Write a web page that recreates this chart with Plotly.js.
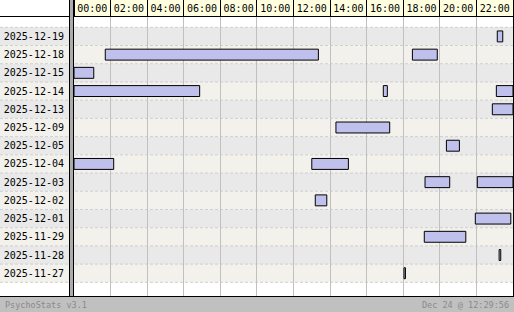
<!DOCTYPE html>
<html>
<head>
<meta charset="utf-8">
<script src="https://cdn.plot.ly/plotly-3.0.1.min.js"></script>
<style>
html,body{margin:0;padding:0;background:#fff;}
#chart{width:514px;height:312px;}
</style>
</head>
<body>
<div id="chart"></div>
<script>
// ---- data ----
const days = ['2025-12-19','2025-12-18','2025-12-15','2025-12-14','2025-12-13','2025-12-09','2025-12-05','2025-12-04','2025-12-03','2025-12-02','2025-12-01','2025-11-29','2025-11-28','2025-11-27'];
const hourLabels = ['00:00','02:00','04:00','06:00','08:00','10:00','12:00','14:00','16:00','18:00','20:00','22:00'];
const sessionDay = ['2025-12-19','2025-12-18','2025-12-18','2025-12-15','2025-12-14','2025-12-14','2025-12-14','2025-12-13','2025-12-09','2025-12-05','2025-12-04','2025-12-04','2025-12-03','2025-12-03','2025-12-02','2025-12-01','2025-11-29','2025-11-28','2025-11-27'];
const sessionStart = [23.14, 1.71, 18.50, 0.00, 0.00, 16.91, 23.09, 22.87, 14.32, 20.36, 0.00, 13.00, 19.19, 22.05, 13.19, 21.94, 19.15, 23.24, 18.04];
const sessionEnd   = [23.44, 13.36, 19.86, 1.08, 6.87, 17.13, 24.00, 24.00, 17.26, 21.07, 2.17, 15.00, 20.54, 24.00, 13.82, 23.88, 21.42, 23.33, 18.12];
const footerLeft = 'PsychoStats v3.1';
const footerRight = 'Dec 24 @ 12:29:56';

// ---- geometry (pixels) ----
const W = 514, H = 312;
const M = {l: 74, r: 1, t: 17, b: 16};
const PW = W - M.l - M.r, PH = H - M.t - M.b;
const px = p => (p - M.l) / PW;           // pixel x -> paper x
const py = p => (H - M.b - p) / PH;       // pixel y -> paper y
const FONT = 'DejaVu Sans Mono, monospace';

const hourSpan = 24;
const labelVals = hourLabels.map((_, i) => 2 * i + 1);

const shapes = [];
// alternating row bands (label column + plot)
days.forEach((d, i) => {
  shapes.push({type: 'rect', layer: 'below', xref: 'paper', yref: 'y',
    x0: px(0), x1: px(W), y0: i - 0.5, y1: i + 0.5,
    fillcolor: i % 2 === 0 ? '#e9e9e9' : '#f3f1ec', line: {width: 0}});
});
// dashed row separators
for (let i = 0; i <= days.length; i++) {
  shapes.push({type: 'line', layer: 'below', xref: 'paper', yref: 'y',
    x0: px(0), x1: px(W), y0: i - 0.5, y1: i - 0.5,
    line: {color: '#cfcfcf', width: 1, dash: '3px,2px'}});
}
// header background (below so tick labels stay visible)
shapes.push({type: 'rect', layer: 'below', xref: 'paper', yref: 'paper',
  x0: 0, x1: 1, y0: py(16), y1: py(0), fillcolor: '#ffffe0', line: {width: 0}});
// header bottom border
shapes.push({type: 'line', layer: 'above', xref: 'paper', yref: 'paper',
  x0: px(0), x1: px(W), y0: py(16.5), y1: py(16.5), line: {color: '#000', width: 1}});
// footer
shapes.push({type: 'rect', layer: 'below', xref: 'paper', yref: 'paper',
  x0: px(0), x1: px(W), y0: py(312), y1: py(297), fillcolor: '#c0c0c0', line: {width: 0}});
shapes.push({type: 'line', layer: 'above', xref: 'paper', yref: 'paper',
  x0: px(0), x1: px(W), y0: py(296.5), y1: py(296.5), line: {color: '#000', width: 1}});
// left separator
shapes.push({type: 'rect', layer: 'above', xref: 'paper', yref: 'paper',
  x0: px(70), x1: px(73), y0: py(296), y1: py(0), fillcolor: '#acacac', line: {width: 0}});
shapes.push({type: 'line', layer: 'above', xref: 'paper', yref: 'paper',
  x0: px(69.5), x1: px(69.5), y0: py(296), y1: py(0), line: {color: '#000', width: 1}});
shapes.push({type: 'line', layer: 'above', xref: 'paper', yref: 'paper',
  x0: px(73.5), x1: px(73.5), y0: py(296), y1: py(0), line: {color: '#000', width: 1}});
// right edge
shapes.push({type: 'line', layer: 'above', xref: 'paper', yref: 'paper',
  x0: px(513.5), x1: px(513.5), y0: py(296), y1: py(0), line: {color: '#000', width: 1}});

const sessions = {
  type: 'bar', orientation: 'h',
  y: sessionDay,
  base: sessionStart,
  x: sessionEnd.map((e, i) => e - sessionStart[i]),
  width: 0.6,
  marker: {color: '#c0c0ec', line: {color: '#000', width: 1}},
  hoverinfo: 'skip', showlegend: false
};

const layout = {
  width: W, height: H,
  margin: {l: M.l, r: M.r, t: M.t, b: M.b, pad: 0},
  paper_bgcolor: '#fff', plot_bgcolor: '#fff',
  showlegend: false, hovermode: false,
  bargap: 0,
  font: {family: FONT, size: 10, color: '#000'},
  xaxis: {
    side: 'top', range: [0, hourSpan], fixedrange: true,
    tickmode: 'array', tickvals: labelVals, ticktext: hourLabels,
    ticks: '', showgrid: false, zeroline: false, showline: false,
    tickfont: {family: FONT, size: 10, color: '#000'},
    ticklabelstandoff: 2,
    minor: {tickmode: 'linear', tick0: 0, dtick: 2, ticks: 'outside', ticklen: 17,
            tickcolor: '#000', tickwidth: 1, showgrid: true, gridcolor: '#c0c0c0', gridwidth: 1}
  },
  yaxis: {
    type: 'category', categoryorder: 'array', categoryarray: days,
    range: [days.length - 0.5 + 0.75, -0.5 - 0.566], fixedrange: true,
    ticks: '', showgrid: false, zeroline: false, showline: false,
    tickfont: {family: FONT, size: 10, color: '#000'},
    ticklabelstandoff: 9
  },
  shapes: shapes,
  annotations: [
    {xref: 'paper', yref: 'paper', x: px(3), y: py(304.5), xanchor: 'left', yanchor: 'middle',
     text: footerLeft, showarrow: false, font: {family: FONT, size: 8.5, color: '#8a8a8a'}},
    {xref: 'paper', yref: 'paper', x: px(510.5), y: py(304.5), xanchor: 'right', yanchor: 'middle',
     text: footerRight, showarrow: false, font: {family: FONT, size: 8.5, color: '#8a8a8a'}}
  ]
};

Plotly.newPlot('chart', [sessions], layout, {displayModeBar: false, staticPlot: true});
</script>
</body>
</html>
